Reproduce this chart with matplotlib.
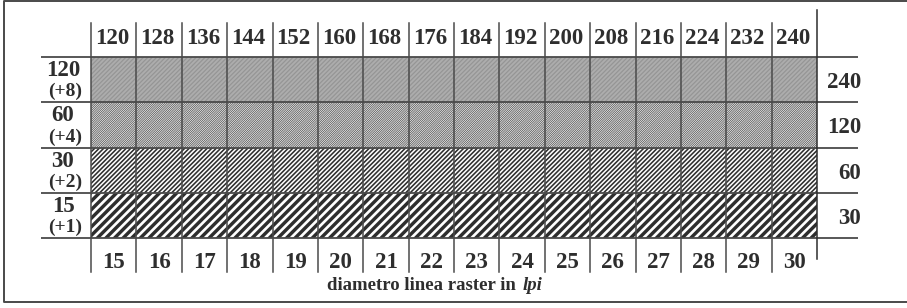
import matplotlib
matplotlib.use("Agg")
import matplotlib.pyplot as plt
from matplotlib.collections import LineCollection
from matplotlib.patches import Rectangle
from matplotlib.transforms import Bbox, TransformedBbox

# dati della tabella
top_labels = [120, 128, 136, 144, 152, 160, 168, 176, 184, 192, 200, 208, 216, 224, 232, 240]
bottom_labels = [15, 16, 17, 18, 19, 20, 21, 22, 23, 24, 25, 26, 27, 28, 29, 30]
row_lpi = [120, 60, 30, 15]
row_step = ["(+8)", "(+4)", "(+2)", "(+1)"]
right_labels = [240, 120, 60, 30]

# retino per riga: passo orizzontale (px), spessore linea (pt), colori
row_pitch = [4.4, 2.2, 4.5, 8.6]
row_lw = [0.9, 0.42, 1.15, 2.45]
row_face = ["#adadad", "#e2e2e2", "white", "white"]
row_line = ["#959595", "#3a3a3a", "#2e2e2e", "#2e2e2e"]

W, H = 907, 308
x0, col_w = 91, 45.375
y0, row_h = 57, 45.25
ink = "#2e2e2e"
line_c = "#4a4a4a"
serif = "Liberation Serif"

fig = plt.figure(figsize=(W / 100, H / 100), dpi=100)
ax = fig.add_axes([0, 0, 1, 1])
ax.set_xlim(0, W)
ax.set_ylim(H, 0)
ax.axis("off")

n_cols = len(top_labels)
col_left = [x0 + i * col_w for i in range(n_cols)]
col_mid = [x + col_w / 2 for x in col_left]
x_end = x0 + n_cols * col_w

# righe retinate
for r in range(len(row_lpi)):
    top = y0 + r * row_h
    bot = top + row_h
    ax.bar(col_left, [row_h] * n_cols, bottom=top, width=col_w, align="edge",
           facecolor=row_face[r], linewidth=0)
    # linee diagonali del retino, ritagliate sulla riga
    p = row_pitch[r]
    segs = []
    k = top + x0
    while k < bot + x_end + p:
        segs.append([(x0 - 60, k - x0 + 60), (x_end + 60, k - x_end - 60)])
        k += p
    clip = Rectangle((x0, top), x_end - x0, row_h, fill=False, linewidth=0)
    ax.add_patch(clip)
    lc = LineCollection(segs, colors=row_line[r], linewidths=row_lw[r])
    ax.add_collection(lc, autolim=False)
    lc.set_clip_box(TransformedBbox(Bbox([[x0, top], [x_end, bot]]), ax.transData))
    lc.set_clip_path(clip)

    mid = top + row_h / 2
    ax.text(63, mid - 9, str(row_lpi[r]), ha="center", va="center",
            fontfamily=serif, fontweight="bold", fontsize=16.5, color=ink)
    ax.text(65, mid + 12, row_step[r], ha="center", va="center",
            fontfamily=serif, fontweight="bold", fontsize=14, color=ink)
    ax.text(861, mid + 3, str(right_labels[r]), ha="right", va="center",
            fontfamily=serif, fontweight="bold", fontsize=16.5, color=ink)

# linee orizzontali
for r in range(len(row_lpi) + 1):
    y = y0 + r * row_h
    ax.plot([41, 858], [y, y], color=line_c, lw=1.3, solid_capstyle="butt")

# linee verticali
for i in range(n_cols + 1):
    x = x0 + i * col_w
    if i == n_cols:
        ax.plot([x, x], [10, 259], color=ink, lw=1.1)
    else:
        ax.plot([x, x], [23, 272], color=line_c, lw=1.1)

# etichette di colonna
for xm, t, b in zip(col_mid, top_labels, bottom_labels):
    ax.text(xm - 1.5, 38, str(t), ha="center", va="center",
            fontfamily=serif, fontweight="bold", fontsize=16.5, color=ink)
    ax.text(xm, 262, str(b), ha="center", va="center",
            fontfamily=serif, fontweight="bold", fontsize=16.5, color=ink)

ax.text(521, 285, "diametro linea raster in ", ha="right", va="center",
        fontfamily=serif, fontweight="bold", fontsize=13.5, color=ink)
ax.text(523, 285, "lpi", ha="left", va="center", fontfamily=serif,
        fontweight="bold", fontstyle="italic", fontsize=13.5, color=ink)

# cornice
ax.plot([W + 5, 3.5, 3.5, W + 5], [0.8, 0.8, 302, 302], color=line_c, lw=1.4)

fig.savefig("out.png", dpi=100)
